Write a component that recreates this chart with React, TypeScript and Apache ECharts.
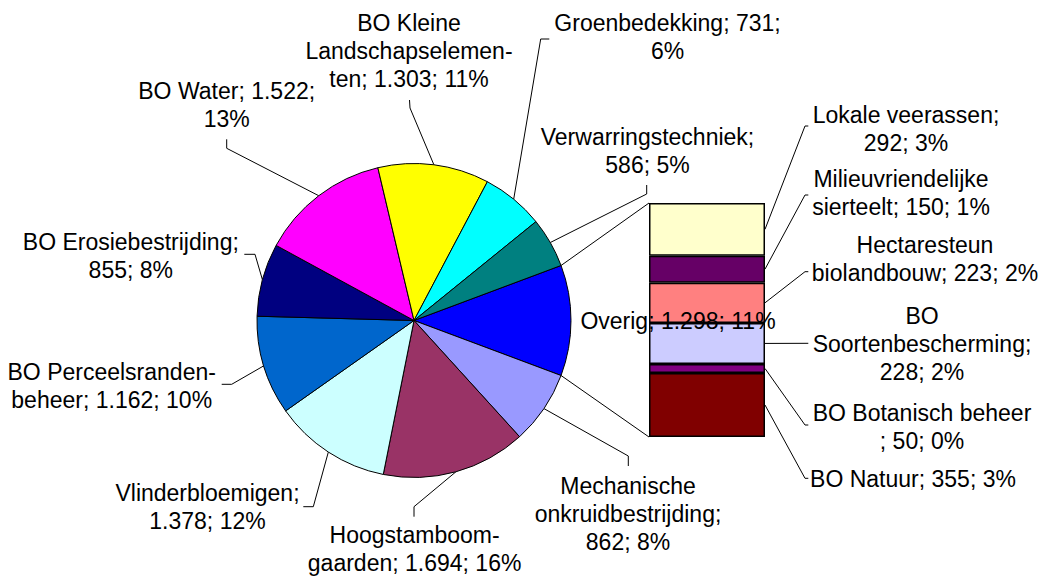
import React, { useEffect, useRef } from 'react';
import * as echarts from 'echarts';

// ---- data ----
const pieNames = [
  'Overig',
  'Mechanische onkruidbestrijding',
  'Hoogstamboomgaarden',
  'Vlinderbloemigen',
  'BO Perceelsrandenbeheer',
  'BO Erosiebestrijding',
  'BO Water',
  'BO Kleine Landschapselementen',
  'Groenbedekking',
  'Verwarringstechniek',
];
const pieValues = [1298, 862, 1694, 1378, 1162, 855, 1522, 1303, 731, 586];
const pieLabels = [
  'Overig; 1.298; 11%',
  'Mechanische\nonkruidbestrijding;\n862; 8%',
  'Hoogstamboom-\ngaarden; 1.694; 16%',
  'Vlinderbloemigen;\n1.378; 12%',
  'BO Perceelsranden-\nbeheer; 1.162; 10%',
  'BO Erosiebestrijding;\n855; 8%',
  'BO Water; 1.522;\n13%',
  'BO Kleine\nLandschapselemen-\nten; 1.303; 11%',
  'Groenbedekking; 731;\n6%',
  'Verwarringstechniek;\n586; 5%',
];
const pieColors = ['#0000FF', '#9999FF', '#993366', '#CCFFFF', '#0066CC', '#000080', '#FF00FF', '#FFFF00', '#00FFFF', '#008080'];

const barNames = [
  'BO Natuur',
  'BO Botanisch beheer',
  'BO Soortenbescherming',
  'Hectaresteun biolandbouw',
  'Milieuvriendelijke sierteelt',
  'Lokale veerassen',
];
const barValues = [355, 50, 228, 223, 150, 292];
const barLabels = [
  'BO Natuur; 355; 3%',
  'BO Botanisch beheer\n; 50; 0%',
  'BO\nSoortenbescherming;\n228; 2%',
  'Hectaresteun\nbiolandbouw; 223; 2%',
  'Milieuvriendelijke\nsierteelt; 150; 1%',
  'Lokale veerassen;\n292; 3%',
];
const barColors = ['#800000', '#800080', '#CCCCFF', '#FF8080', '#660066', '#FFFFCC'];

// ---- layout ----
const PIE_CX = 414;
const PIE_CY = 320.5;
const PIE_R = 157;
const BAR_LEFT = 649;
const BAR_TOP = 203;
const BAR_W = 116;
const BAR_H = 234;

type Pos = { x: number; y: number; hook: number[][] | null };
const pieLabelPos: Pos[] = [
  { x: 678, y: 321, hook: null },
  { x: 628, y: 514.3, hook: [[628.3, 456], [628.3, 466]] },
  { x: 414.6, y: 548.7, hook: [[414, 506.7], [414, 516.7]] },
  { x: 207.5, y: 506.8, hook: [[313.3, 506.7], [303.3, 506.7]] },
  { x: 111.7, y: 385.7, hook: [[231.7, 384.3], [221.7, 384.3]] },
  { x: 130.8, y: 255.7, hook: [[255, 254.3], [244.3, 254.3]] },
  { x: 226.7, y: 105.3, hook: [[226.7, 148.3], [226.7, 139.3]] },
  { x: 409, y: 51, hook: [[410, 108], [409.5, 100]] },
  { x: 667.5, y: 37.3, hook: [[540.7, 39], [549.3, 39]] },
  { x: 647.5, y: 150.7, hook: [[646.7, 194], [646.7, 185]] },
];
const barLabelPos: Pos[] = [
  { x: 913, y: 479.2, hook: [[805, 478.3], [808.3, 478.3]] },
  { x: 922, y: 426.5, hook: [[805, 425], [808.3, 425]] },
  { x: 922, y: 343.8, hook: [[808.3, 343.3]] },
  { x: 925, y: 259, hook: [[805, 271.7], [808.3, 271.7]] },
  { x: 901, y: 193.2, hook: [[805, 195], [808.3, 195]] },
  { x: 906, y: 129, hook: [[805, 126], [808.3, 126]] },
];

const font = {
  fontFamily: "'Liberation Sans', Arial, sans-serif",
  fontSize: 23,
  lineHeight: 28,
  color: '#000',
};

export default function App() {
  const ref = useRef<HTMLDivElement>(null);
  useEffect(() => {
    document.body.style.margin = '0';
    const chart = echarts.init(ref.current as HTMLDivElement, null, { renderer: 'svg' });
    const pieSum = pieValues.reduce((a, b) => a + b, 0);
    const barSum = barValues.reduce((a, b) => a + b, 0);
    const startAngle = ((pieValues[0] / pieSum) * 360) / 2;
    const midAngles: number[] = [];
    let cum = 0;
    pieValues.forEach((v) => {
      midAngles.push(startAngle - ((cum + v / 2) / pieSum) * 360);
      cum += v;
    });
    const edge = (deg: number) => {
      const a = (deg * Math.PI) / 180;
      return [PIE_CX + PIE_R * Math.cos(a), PIE_CY - PIE_R * Math.sin(a)];
    };

    const option: any = {
      animation: false,
      grid: { left: BAR_LEFT, top: BAR_TOP, width: BAR_W, height: BAR_H },
      xAxis: { type: 'category', data: ['Overig'], show: false },
      yAxis: { type: 'value', min: 0, max: barSum, show: false },
      series: [
        {
          type: 'pie',
          z: 3,
          center: [PIE_CX, PIE_CY],
          radius: PIE_R,
          startAngle,
          clockwise: true,
          avoidLabelOverlap: false,
          emphasis: { disabled: true },
          data: pieNames.map((n, i) => ({
            name: n,
            value: pieValues[i],
            itemStyle: { color: pieColors[i] },
            labelLine: { show: i !== 0 },
          })),
          itemStyle: { borderColor: '#000', borderWidth: 1 },
          label: {
            show: true,
            position: 'outside',
            formatter: (p: any) => pieLabels[p.dataIndex],
            ...font,
            align: 'center',
          },
          labelLine: { show: true, smooth: false, lineStyle: { color: '#000', width: 1 } },
          labelLayout: (p: any) => {
            const pos = pieLabelPos[p.dataIndex];
            const res: any = { x: pos.x, y: pos.y, align: 'center', verticalAlign: 'middle' };
            if (pos.hook) res.labelLinePoints = [edge(midAngles[p.dataIndex]), ...pos.hook];
            return res;
          },
        },
        ...barNames.map((n, i) => ({
          type: 'bar',
          name: n,
          stack: 'overig',
          barWidth: '100%',
          z: 2,
          emphasis: { disabled: true },
          data: [barValues[i]],
          itemStyle: { color: barColors[i], borderColor: '#000', borderWidth: 1.5 },
          label: {
            show: true,
            position: 'inside',
            formatter: () => barLabels[i],
            ...font,
            align: 'center',
          },
          labelLayout: () => ({
            x: barLabelPos[i].x,
            y: barLabelPos[i].y,
            align: 'center',
            verticalAlign: 'middle',
          }),
        })),
      ],
    };
    chart.setOption(option);

    const graphics: any[] = [];
    const barRight = BAR_LEFT + BAR_W;
    let c = 0;
    barValues.forEach((v, i) => {
      const ym = chart.convertToPixel({ yAxisIndex: 0 }, c + v / 2) as number;
      c += v;
      graphics.push({
        type: 'polyline',
        z: 10,
        shape: { points: [[barRight, ym], ...(barLabelPos[i].hook as number[][])] },
        style: { stroke: '#000', lineWidth: 1, fill: 'none' },
      });
    });
    const yTop = chart.convertToPixel({ yAxisIndex: 0 }, barSum) as number;
    const yBot = chart.convertToPixel({ yAxisIndex: 0 }, 0) as number;
    const pTop = edge(startAngle);
    const pBot = edge(-startAngle);
    graphics.push({
      type: 'line',
      z: 10,
      shape: { x1: pTop[0], y1: pTop[1], x2: BAR_LEFT, y2: yTop },
      style: { stroke: '#000', lineWidth: 1 },
    });
    graphics.push({
      type: 'line',
      z: 10,
      shape: { x1: pBot[0], y1: pBot[1], x2: BAR_LEFT, y2: yBot },
      style: { stroke: '#000', lineWidth: 1 },
    });
    chart.setOption({ graphic: graphics });

    return () => chart.dispose();
  }, []);
  return <div ref={ref} style={{ width: 1046, height: 577 }} />;
}
